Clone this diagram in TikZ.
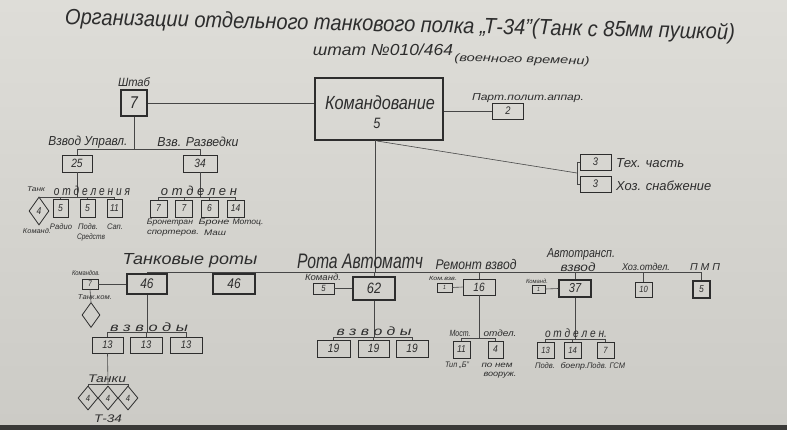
\documentclass[tikz,border=0pt]{standalone}
\usepackage{fontspec}
\setmainfont[FakeStretch=0.85]{Liberation Sans}
\usetikzlibrary{shapes.geometric}
\definecolor{bgtop}{RGB}{222,221,216}
\definecolor{bgbot}{RGB}{204,203,198}
\definecolor{ink}{RGB}{45,45,45}
\definecolor{lnc}{RGB}{70,70,70}
\definecolor{edge}{RGB}{58,58,56}
% \lb{font size}{width}{text}
\newcommand\lb[3]{{\fontsize{#1}{#1}\selectfont\itshape\resizebox{#2pt}{\height}{#3}}}
\begin{document}
\begin{tikzpicture}[x=1pt,y=-1pt,
  every node/.style={inner sep=0pt, text=ink},
  ln/.style={draw=lnc, line width=0.6pt},
  bx/.style n args={2}{draw=ink, line width=0.8pt, minimum width=#1pt, minimum height=#2pt},
  tbx/.style n args={2}{bx={#1}{#2}, line width=1.7pt},
  dm/.style n args={2}{diamond, draw=ink, line width=0.8pt, minimum width=#1pt, minimum height=#2pt},
  nf/.style={font={\fontsize{#1}{#1}\selectfont\itshape}}]
\useasboundingbox (0,0) rectangle (787,430);
\shade[top color=bgtop, bottom color=bgbot] (0,0) rectangle (787,425);
\fill[edge] (0,425) rectangle (787,430);

% titles
\node[rotate=-1.3] (title) at (400,26) {\lb{22}{670}{Организации отдельного танкового полка „Т-34"(Танк с 85мм пушкой)}};
\node (sub1) at (383,50) {\lb{16}{140}{штат №010/464}};
\node[rotate=-1.5] (sub2) at (522,60) {\lb{11}{135}{(военного времени)}};

% command
\node[tbx={128}{62}, line width=2pt] (kom) at (379,109) {};
\node (komt) at (380,103) {\lb{19}{110}{Командование}};
\node[nf=15] (komn) at (377,123) {5};
\node[tbx={26}{26}, nf=17] (shtab) at (134,103) {7};
\node (shtabl) at (134,82) {\lb{12}{32}{Штаб}};
\node[bx={31}{16}, nf=11] (part) at (508,111) {2};
\node (partl) at (528,98) {\lb{10}{112}{Парт.полит.аппар.}};
\node[bx={31}{16}, nf=11] (tex) at (595.5,162) {3};
\node[bx={31}{16}, nf=11] (hoz) at (595.5,184) {3};
\node[anchor=west] (texl) at (616,163) {\lb{13}{68}{Тех. часть}};
\node[anchor=west] (hozl) at (616,186) {\lb{13}{95}{Хоз. снабжение}};
\coordinate (br) at (577,173);

\draw[ln] (shtab.east) -- (shtab.east -| kom.west);
\draw[ln] (part.west -| kom.east) -- (part.west);
\draw[ln] ([xshift=-2pt]kom.south) -- (br);
\draw[ln] (br |- tex.west) -- (br |- hoz.west);
\draw[ln] (br |- tex.west) -- (tex.west);
\draw[ln] (br |- hoz.west) -- (hoz.west);

% shtab sub-units
\coordinate (sh) at (134,149);
\node[bx={30}{17}, nf=12] (v25) at (77,163.5) {25};
\node[bx={34}{17}, nf=12] (v34) at (200,163.5) {34};
\node (v25l) at (88,142) {\lb{13}{79}{Взвод Управл.}};
\node (v34l) at (198,142) {\lb{13}{81}{Взв. Разведки}};
\draw[ln] (shtab.south) -- (sh);
\draw[ln] (v25.north) -- (v25.north |- sh) -- (v34.north |- sh) -- (v34.north);

\coordinate (o1) at (77,197);
\node[dm={20}{28}, nf=10] (d4) at (39,211) {4};
\node[bx={15}{18}, nf=10] (b5a) at (60.5,208) {5};
\node[bx={15}{18}, nf=10] (b5b) at (87.5,208) {5};
\node[bx={15}{18}, nf=10] (b11) at (114.5,208) {11};
\draw[ln] (v25.south) -- (o1);
\draw[ln] (d4.north) -- (d4.north |- o1) -- (b11.north |- o1) -- (b11.north);
\draw[ln] (b5a.north) -- (b5a.north |- o1);
\draw[ln] (b5b.north) -- (b5b.north |- o1);
\node (tankl) at (36,189) {\lb{7}{18}{Танк}};
\node (otdl1) at (92,191) {\lb{13}{76}{о т д е л е н и я}};
\node (komandl1) at (37,231) {\lb{7}{28}{Команд.}};
\node (radl) at (61,227) {\lb{8}{22}{Радио}};
\node (podvl) at (88,227) {\lb{8}{20}{Подв.}};
\node (sredl) at (91,237) {\lb{8}{28}{Средств}};
\node (sapl) at (115,227) {\lb{8}{16}{Сап.}};

\coordinate (o2) at (200,197);
\node[bx={17}{17}, nf=10] (b7a) at (158.5,208.5) {7};
\node[bx={17}{17}, nf=10] (b7b) at (184,208.5) {7};
\node[bx={17}{17}, nf=10] (b6) at (209.5,208.5) {6};
\node[bx={17}{17}, nf=10] (b14) at (235.5,208.5) {14};
\draw[ln] (v34.south) -- (o2);
\draw[ln] (b7a.north) -- (b7a.north |- o2) -- (b14.north |- o2) -- (b14.north);
\draw[ln] (b7b.north) -- (b7b.north |- o2);
\draw[ln] (b6.north) -- (b6.north |- o2);
\node (otdl2) at (199,191) {\lb{13}{76}{о т д е л е н}};
\node (bronl) at (170,223) {\lb{8}{46}{Бронетран}};
\node (sportl) at (173,233) {\lb{8}{52}{спортеров.}};
\node (bronel) at (214,223) {\lb{8}{31}{Броне}};
\node (mashl) at (215,233) {\lb{8}{22}{Маш}};
\node (motl) at (248,223) {\lb{8}{31}{Мотоц.}};

% main line
\coordinate (mL) at (147,272);
\coordinate (mR) at (702,272);
\coordinate (kb) at (375,140);
\draw[ln] (kb) -- (kb |- mL);
\draw[ln] (mL) -- (mR);

% tank companies
\node[tbx={40}{20}, nf=14] (t46a) at (147,284) {46};
\node[tbx={42}{20}, nf=14] (t46b) at (234,284) {46};
\node (tankrl) at (190,261) {\lb{16}{135}{Танковые роты}};
\draw[ln] (t46a.north) -- (t46a.north |- mL);
\draw[ln] (t46b.north) -- (t46b.north |- mL);
\node[bx={16}{10}, nf=8] (k7) at (90,284) {7};
\node (k7l) at (86,273) {\lb{7}{28}{Командов.}};
\draw[ln] (k7.east) -- (t46a.west);
\node[dm={18}{25}] (dtk) at (91,315) {};
\node (tkoml) at (95,297) {\lb{7}{34}{Танк.ком.}};
\draw[ln] (k7.south) -- (dtk.north);
\coordinate (o3) at (147,332);
\node[bx={31}{16}, nf=11] (b13a) at (107.5,345) {13};
\node[bx={32}{16}, nf=11] (b13b) at (146,345) {13};
\node[bx={32}{16}, nf=11] (b13c) at (186,345) {13};
\draw[ln] (t46a.south) -- (o3);
\draw[ln] (b13a.north) -- (b13a.north |- o3) -- (b13c.north |- o3) -- (b13c.north);
\draw[ln] (b13b.north) -- (b13b.north |- o3);
\node (vzvl1) at (149,327) {\lb{12}{78}{в з в о д ы}};
\coordinate (o4) at (108,384);
\node[dm={20}{24}, nf=9] (tA) at (88,398) {4};
\node[dm={20}{24}, nf=9] (tB) at (108,398) {4};
\node[dm={20}{24}, nf=9] (tC) at (128,398) {4};
\draw[ln] (b13a.south) -- (o4);
\draw[ln] (tA.north) -- (tA.north |- o4) -- (tC.north |- o4) -- (tC.north);
\node (tankil) at (107,379) {\lb{11}{38}{Танки}};
\node (t34l) at (108,419) {\lb{11}{28}{Т-34}};

% rota avtomatchikov
\node[tbx={42}{23}, nf=15] (a62) at (374,288.5) {62};
\node (rotal) at (360,261) {\lb{21}{126}{Рота Автоматч}};
\draw[ln] (a62.north) -- (a62.north |- mL);
\node[bx={21}{11}, nf=9] (a5) at (323.5,288.5) {5};
\node (a5l) at (323,277) {\lb{9}{36}{Команд.}};
\draw[ln] (a5.east) -- (a62.west);
\coordinate (o5) at (374,337);
\node[bx={33}{17}, nf=12] (a19a) at (333.5,348.5) {19};
\node[bx={31}{17}, nf=12] (a19b) at (373.5,348.5) {19};
\node[bx={32}{17}, nf=12] (a19c) at (412,348.5) {19};
\draw[ln] (a62.south) -- (o5);
\draw[ln] (a19a.north) -- (a19a.north |- o5) -- (a19c.north |- o5) -- (a19c.north);
\draw[ln] (a19b.north) -- (a19b.north |- o5);
\node (vzvl2) at (374,331) {\lb{12}{75}{в з в о д ы}};

% remont vzvod
\node[bx={32}{16}, nf=12] (r16) at (479,287) {16};
\node (reml) at (476,264) {\lb{14}{81}{Ремонт взвод}};
\draw[ln] (r16.north) -- (r16.north |- mL);
\node[bx={15}{9}, nf=6] (r1) at (444.5,287.5) {1};
\node (r1l) at (443,278) {\lb{6}{28}{Ком.взв.}};
\draw[ln] (r1.east) -- (r16.west);
\coordinate (o6) at (479,338);
\node[bx={17}{17}, nf=10] (r11) at (461.5,349.5) {11};
\node[bx={15}{17}, nf=10] (r4) at (495.5,349.5) {4};
\draw[ln] (r16.south) -- (o6);
\draw[ln] (r11.north) -- (r11.north |- o6) -- (r4.north |- o6) -- (r4.north);
\node (mostl) at (460,333) {\lb{9}{21}{Мост.}};
\node (otdl3) at (500,333) {\lb{9}{33}{отдел.}};
\node (tipl) at (457,365) {\lb{8}{24}{Тип „Б"}};
\node (ponl) at (497,365) {\lb{8}{31}{по нем}};
\node (voorl) at (500,375) {\lb{8}{33}{вооруж.}};

% avtotransp vzvod
\node[bx={32}{17}, line width=1.1pt, nf=13] (t37) at (575,288.5) {37};
\node (avtl) at (581,254) {\lb{13}{68}{Автотрансп.}};
\node (avtl2) at (578,267) {\lb{12}{35}{взвод}};
\draw[ln] (t37.north) -- (t37.north |- mL);
\node[bx={13}{8}, nf=6] (t1) at (538.5,289) {1};
\node (t1l) at (537,281) {\lb{6}{22}{Команд.}};
\draw[ln] (t1.east) -- (t37.west);
\coordinate (o7) at (575,339);
\node[bx={17}{16}, nf=9] (t13) at (545.5,350) {13};
\node[bx={17}{16}, nf=9] (t14) at (572.5,350) {14};
\node[bx={17}{16}, nf=9] (t7) at (605.5,350) {7};
\draw[ln] (t37.south) -- (o7);
\draw[ln] (t13.north) -- (t13.north |- o7) -- (t7.north |- o7) -- (t7.north);
\draw[ln] (t14.north) -- (t14.north |- o7);
\node (otdl4) at (576,333) {\lb{12}{62}{о т д е л е н.}};
\node (podl1) at (545,366) {\lb{8}{20}{Подв.}};
\node (boepl) at (574,366) {\lb{8}{27}{боепр.}};
\node (gsml) at (606,366) {\lb{8}{38}{Подв. ГСМ}};

% hoz otdel, PMP
\node[bx={17}{15}, nf=9] (x10) at (643.5,289.5) {10};
\node (x10l) at (646,267) {\lb{10}{48}{Хоз.отдел.}};
\draw[ln] (x10.north) -- (x10.north |- mL);
\node[bx={17}{17}, line width=1.1pt, nf=10] (p5) at (701.5,289.5) {5};
\node (p5l) at (705,267) {\lb{10}{30}{П М П}};
\draw[ln] (p5.north) -- (p5.north |- mL);
\end{tikzpicture}
\end{document}
